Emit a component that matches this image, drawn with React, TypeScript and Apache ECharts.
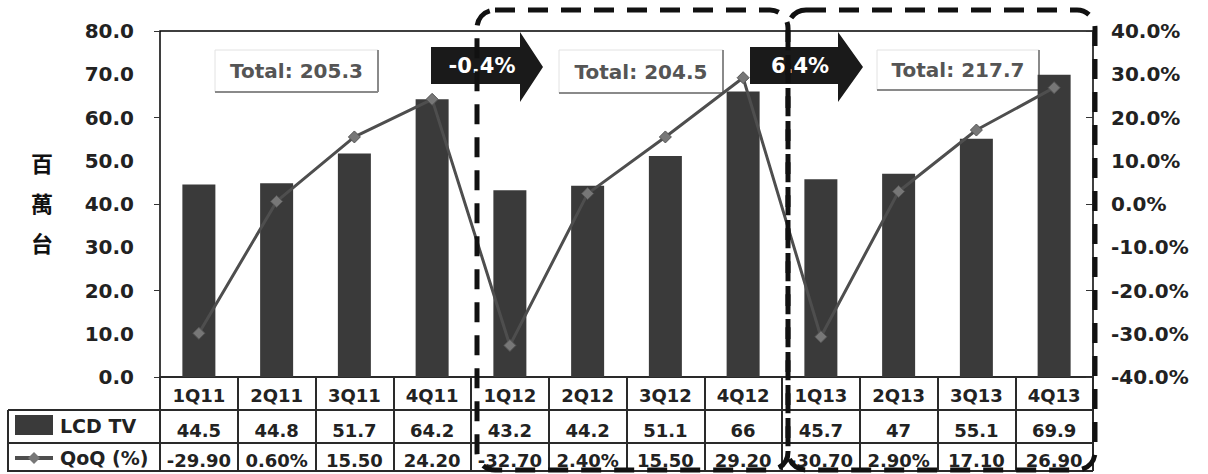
import React, { useEffect, useRef } from "react";
import * as echarts from "echarts";

const categories = ["1Q11", "2Q11", "3Q11", "4Q11", "1Q12", "2Q12", "3Q12", "4Q12", "1Q13", "2Q13", "3Q13", "4Q13"];
const lcdTv = [44.5, 44.8, 51.7, 64.2, 43.2, 44.2, 51.1, 66, 45.7, 47, 55.1, 69.9];
const qoq = [-29.9, 0.6, 15.5, 24.2, -32.7, 2.4, 15.5, 29.2, -30.7, 2.9, 17.1, 26.9];
const qoqLabels = ["-29.90", "0.60%", "15.50", "24.20", "-32.70", "2.40%", "15.50", "29.20", "-30.70", "2.90%", "17.10", "26.90"];
const yearTotals = ["205.3", "204.5", "217.7"];
const yearGrowth = ["-0.4%", "6.4%"];
const unitTitle = "百\n萬\n台";
const seriesNames = ["LCD TV", "QoQ (%)"];

const FONT = "'DejaVu Sans', Arial, sans-serif";
const BAR = "#3a3a3a";
const LINE = "#4e4e4e";
const GRIDLINE = "#2a2a2a";

export default function App() {
  const ref = useRef<HTMLDivElement>(null);
  useEffect(() => {
    const chart = echarts.init(ref.current!, null, { renderer: "svg" });
    const tableText = { fontFamily: FONT, fontWeight: "bold", fontSize: 18, color: "#222", lineHeight: 20 };
    const rowLine = { show: true, onZero: false, lineStyle: { color: GRIDLINE, width: 2 } };

    const totalBox = (x: number, y: number, w: number, h: number, label: string) => ({
      type: "group",
      children: [
        { type: "rect", shape: { x, y, width: w, height: h }, style: { fill: "#fff", stroke: "#e2e2e2", lineWidth: 1 } },
        { type: "line", shape: { x1: x + w, y1: y, x2: x + w, y2: y + h }, style: { stroke: "#8a8a8a", lineWidth: 2 } },
        { type: "line", shape: { x1: x, y1: y + h, x2: x + w, y2: y + h }, style: { stroke: "#8a8a8a", lineWidth: 2 } },
        {
          type: "text", x: x + w / 2, y: y + h / 2,
          style: { text: "Total: " + label, fill: "#555", font: `bold 20px ${FONT}`, align: "center", verticalAlign: "middle" },
        },
      ],
    });

    const arrow = (x0: number, x1: number, tip: number, tx: number, label: string) => ({
      type: "group",
      z: 50,
      children: [
        {
          type: "polygon", z: 50,
          shape: { points: [[x0, 47], [x1, 47], [x1, 32], [tip, 67], [x1, 102], [x1, 84], [x0, 84]] },
          style: { fill: "#1a1a1a" },
        },
        {
          type: "text", z: 51, x: tx, y: 66,
          style: { text: label, fill: "#fff", font: `bold 21px ${FONT}`, align: "center", verticalAlign: "middle" },
        },
      ],
    });

    const dashBox = (x: number, w: number) => ({
      type: "rect", z: 100,
      shape: { x, y: 10, width: w, height: 460, r: 18 },
      style: { fill: "none", stroke: "#111", lineWidth: 5, lineDash: [20, 13] },
    });

    const hLine = (y: number) => ({
      type: "rect", z: 90, shape: { x: 8, y: y - 1, width: 1085, height: 2 }, style: { fill: GRIDLINE },
    });

    chart.setOption({
      animation: false,
      grid: { left: 160, top: 31, width: 933, height: 346, show: true, borderColor: "#000", borderWidth: 1.5, backgroundColor: "transparent" },
      xAxis: [
        {
          type: "category", data: categories, position: "bottom",
          axisLine: rowLine,
          axisTick: { show: true, interval: 0, length: 94, lineStyle: { color: GRIDLINE, width: 2 } },
          axisLabel: { ...tableText, margin: 8, interval: 0 },
        },
        {
          type: "category", data: categories, position: "bottom", offset: 33,
          axisLine: rowLine,
          axisTick: { show: false },
          axisLabel: { ...tableText, margin: 10, interval: 0, formatter: (_v: string, i: number) => String(lcdTv[i]) },
        },
        {
          type: "category", data: categories, position: "bottom", offset: 66,
          axisLine: rowLine,
          axisTick: { show: false },
          axisLabel: { ...tableText, margin: 7, interval: 0, formatter: (_v: string, i: number) => qoqLabels[i] },
        },
      ],
      yAxis: [
        {
          type: "value", position: "left", min: 0, max: 80, interval: 10,
          axisLine: { show: false }, axisTick: { show: false }, splitLine: { show: false },
          axisLabel: { fontFamily: FONT, fontWeight: "bold", fontSize: 20, color: "#222", margin: 26, formatter: (v: number) => v.toFixed(1) },
        },
        {
          type: "value", position: "right", min: -40, max: 40, interval: 10,
          axisLine: { show: false }, axisTick: { show: false }, splitLine: { show: false },
          axisLabel: { fontFamily: FONT, fontWeight: "bold", fontSize: 20, color: "#222", margin: 18, formatter: (v: number) => v.toFixed(1) + "%" },
        },
        {
          type: "value", position: "left", min: 0, max: 80, interval: 20,
          axisLine: { show: false }, splitLine: { show: false }, axisLabel: { show: false },
          axisTick: { show: true, length: 6, lineStyle: { color: "#333" } },
        },
        {
          type: "value", position: "right", min: -40, max: 40, interval: 20,
          axisLine: { show: false }, splitLine: { show: false }, axisLabel: { show: false },
          axisTick: { show: true, inside: true, length: 7, lineStyle: { color: "#333" } },
        },
      ],
      series: [
        {
          name: seriesNames[0], type: "bar", data: lcdTv, xAxisIndex: 0, yAxisIndex: 0,
          barWidth: 33, itemStyle: { color: BAR },
        },
        {
          name: seriesNames[1], type: "line", data: qoq, xAxisIndex: 0, yAxisIndex: 1,
          symbol: "diamond", symbolSize: 12,
          lineStyle: { color: LINE, width: 3 },
          itemStyle: { color: "#777", borderColor: "#555", borderWidth: 1 },
        },
      ],
      graphic: [
        {
          type: "text", x: 42, y: 202,
          style: { text: unitTitle, fill: "#111", font: `bold 22px 'Noto Sans CJK TC'`, lineHeight: 40, align: "center", verticalAlign: "middle" },
        },
        totalBox(215, 50, 163, 42, yearTotals[0]),
        totalBox(559, 50, 164, 43, yearTotals[1]),
        totalBox(877, 50, 162, 40, yearTotals[2]),
        arrow(431, 520, 543, 482, yearGrowth[0]),
        arrow(750, 838, 863, 800, yearGrowth[1]),
        hLine(410),
        hLine(443),
        hLine(471),
        { type: "rect", z: 90, shape: { x: 7, y: 410, width: 2, height: 62 }, style: { fill: GRIDLINE } },
        { type: "rect", shape: { x: 15, y: 415, width: 38, height: 20 }, style: { fill: BAR } },
        { type: "line", shape: { x1: 15, y1: 458, x2: 53, y2: 458 }, style: { stroke: LINE, lineWidth: 4 } },
        { type: "polygon", shape: { points: [[34, 452], [40, 458], [34, 464], [28, 458]] }, style: { fill: "#777" } },
        {
          type: "text", x: 60, y: 426,
          style: { text: seriesNames[0], fill: "#222", font: `bold 19px ${FONT}`, verticalAlign: "middle" },
        },
        {
          type: "text", x: 60, y: 458,
          style: { text: seriesNames[1], fill: "#222", font: `bold 19px ${FONT}`, verticalAlign: "middle" },
        },
        dashBox(477, 311),
        dashBox(788, 307),
      ],
    });
    return () => chart.dispose();
  }, []);
  return <div ref={ref} style={{ position: "absolute", left: 0, top: 0, width: 1208, height: 474 }} />;
}
